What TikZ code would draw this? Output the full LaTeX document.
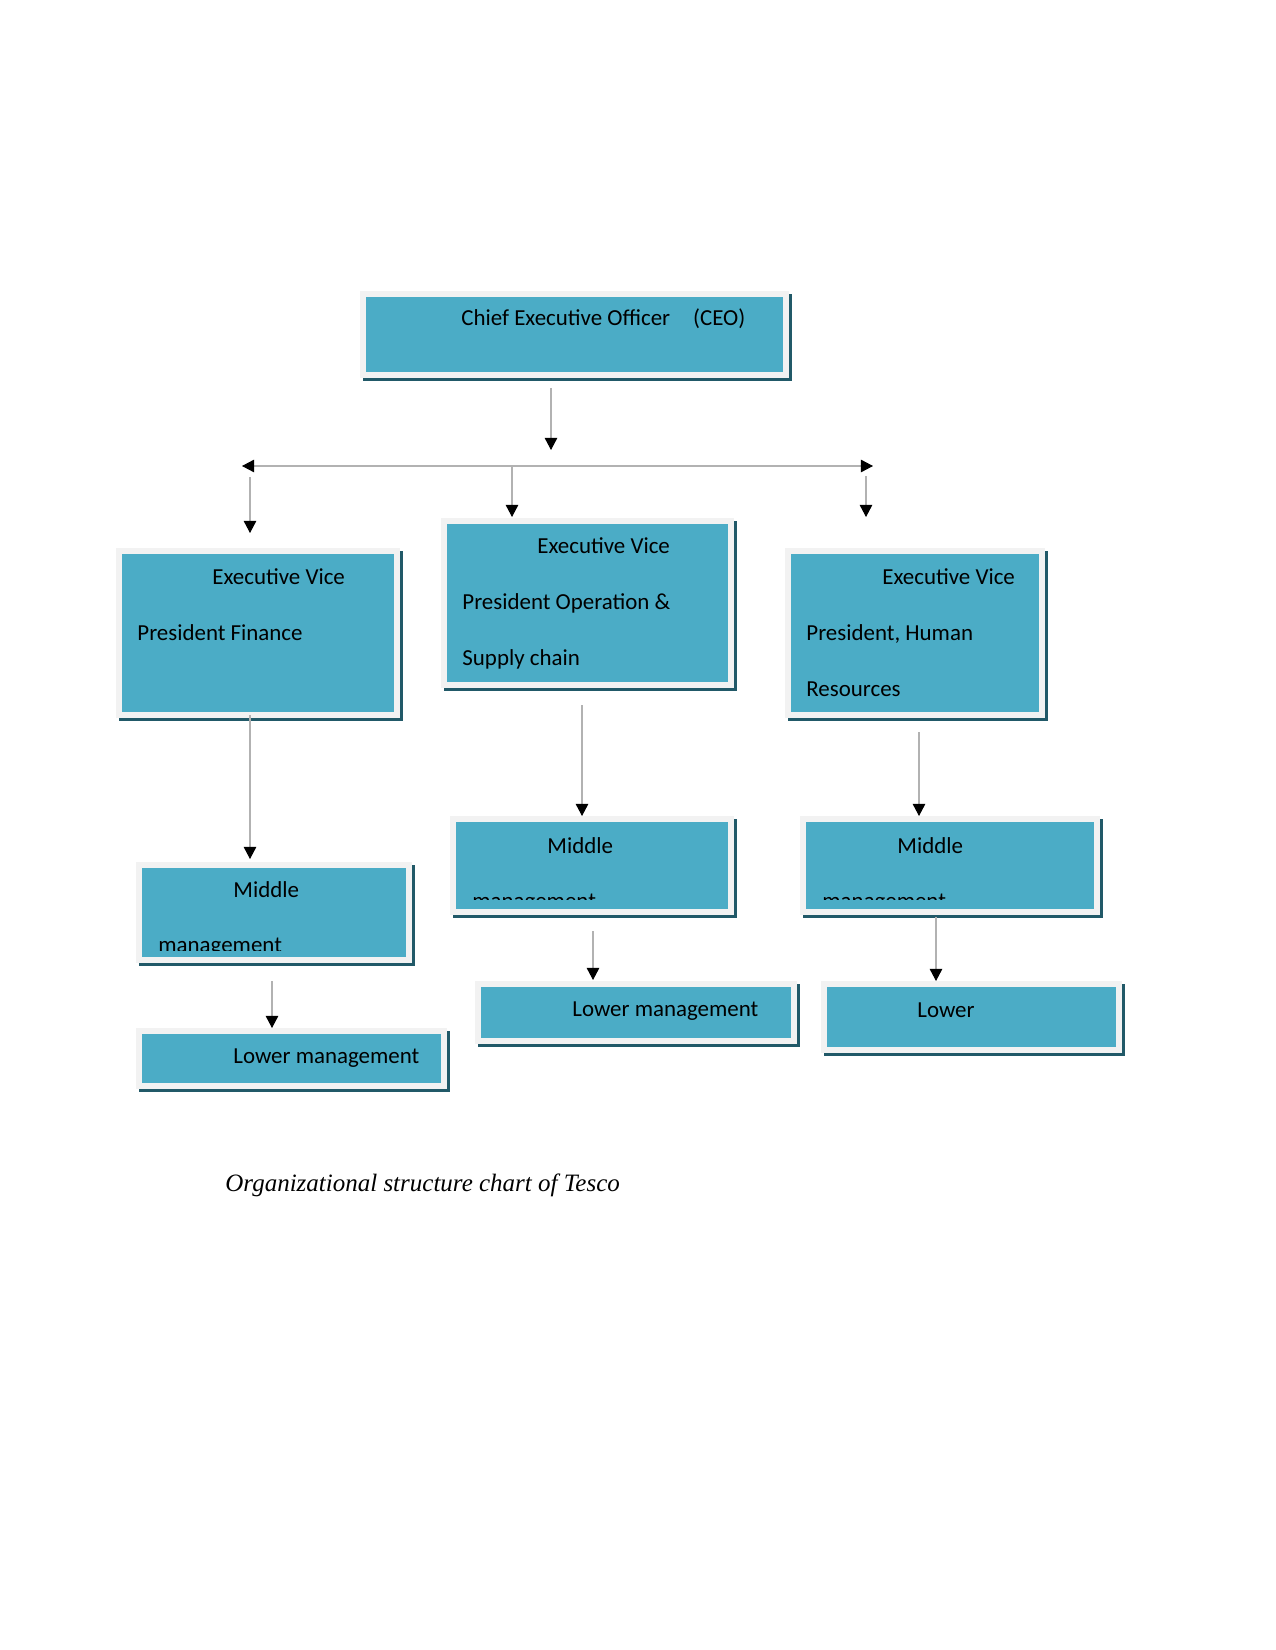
\documentclass[tikz,border=0pt]{standalone}
\usepackage{fontspec}
\setmainfont{Carlito}
\newfontfamily\capfont{Liberation Serif}
\usetikzlibrary{arrows.meta,fit}
\definecolor{boxblue}{HTML}{4BACC6}
\definecolor{boxshade}{HTML}{215968}
\definecolor{boxrim}{HTML}{F2F2F2}

\begin{document}
\begin{tikzpicture}[x=0.48pt,y=-0.48pt,
  orgbox/.style={inner sep=1.44pt,fill=boxblue,draw=boxrim,line width=2.88pt,
    preaction={draw=boxshade,fill=boxshade,transform canvas={shift={(1.44pt,-1.44pt)}}}},
  lbl/.style={anchor=base west,inner sep=0pt,font=\fontsize{11}{13}\selectfont},
  link/.style={draw=gray!60,line width=0.5pt,-{Triangle[length=5.8pt,width=6pt,black]}},
  linkboth/.style={draw=gray!60,line width=0.5pt,{Triangle[length=5.8pt,width=6pt,black]}-{Triangle[length=5.8pt,width=6pt,black]}}]
\useasboundingbox (0,0) rectangle (1275,1650);

\node[orgbox,fit={(366,297)(783,372)}] (ceo) {};
\node[orgbox,fit={(122,554)(394,712)}] (fin) {};
\node[orgbox,fit={(447,524)(728,682)}] (ops) {};
\node[orgbox,fit={(791,554)(1039,712)}] (hr) {};
\node[orgbox,fit={(142,868)(406,957)}] (mid1) {};
\node[orgbox,fit={(456,822)(728,909)}] (mid2) {};
\node[orgbox,fit={(806,822)(1094,909)}] (mid3) {};
\node[orgbox,fit={(142,1034)(441,1083)}] (low1) {};
\node[orgbox,fit={(481,987)(791,1038)}] (low2) {};
\node[orgbox,fit={(827,987)(1116,1047)}] (low3) {};

\node[lbl] (ceo-t) at (461,326) {Chief Executive Officer\hspace{11pt}(CEO)};
\node[lbl] (fin-t1) at (212,584) {Executive Vice};
\node[lbl] (fin-t2) at (137,640) {President Finance};
\node[lbl] (ops-t1) at (537,553) {Executive Vice};
\node[lbl] (ops-t2) at (462,609) {President Operation \&};
\node[lbl] (ops-t3) at (462,665) {Supply chain};
\node[lbl] (hr-t1) at (882,584) {Executive Vice};
\node[lbl] (hr-t2) at (806,640) {President, Human};
\node[lbl] (hr-t3) at (806,696) {Resources};
\node[lbl] (mid1-t1) at (233,897) {Middle};
\node[lbl] (mid2-t1) at (547,853) {Middle};
\node[lbl] (mid3-t1) at (897,853) {Middle};
\begin{scope}
\clip (142,868) rectangle (406,950);
\node[lbl] (mid1-t2) at (158,952) {management};
\end{scope}
\begin{scope}
\clip (456,822) rectangle (728,899);
\node[lbl] (mid2-t2) at (472,908) {management};
\end{scope}
\begin{scope}
\clip (806,822) rectangle (1094,899);
\node[lbl] (mid3-t2) at (822,908) {management};
\end{scope}
\node[lbl] (low1-t) at (233,1063) {Lower management};
\node[lbl] (low2-t) at (572,1016) {Lower management};
\node[lbl] (low3-t) at (917,1017) {Lower};

\coordinate (ceo-out) at (551,388);
\coordinate (split) at (551,450);
\coordinate (bar-l) at (242,466);
\coordinate (bar-m) at (512,466);
\coordinate (bar-r) at (873,466);
\coordinate (fin-top) at (250,477);
\coordinate (fin-in) at (250,533);
\coordinate (ops-in) at (512,517);
\coordinate (hr-top) at (866,476);
\coordinate (hr-in) at (866,517);
\coordinate (fin-out) at (250,715);
\coordinate (mid1-in) at (250,859);
\coordinate (mid1-out) at (272,981);
\coordinate (low1-in) at (272,1028);
\coordinate (ops-out) at (582,705);
\coordinate (mid2-in) at (582,816);
\coordinate (mid2-out) at (593,931);
\coordinate (low2-in) at (593,980);
\coordinate (hr-out) at (919,732);
\coordinate (mid3-in) at (919,816);
\coordinate (mid3-out) at (936,917);
\coordinate (low3-in) at (936,981);

\draw[link] (ceo-out) -- (split);
\draw[linkboth] (bar-l) -- (bar-r);
\draw[link] (fin-top) -- (fin-in);
\draw[link] (bar-m) -- (ops-in);
\draw[link] (hr-top) -- (hr-in);
\draw[link] (fin-out) -- (mid1-in);
\draw[link] (mid1-out) -- (low1-in);
\draw[link] (ops-out) -- (mid2-in);
\draw[link] (mid2-out) -- (low2-in);
\draw[link] (hr-out) -- (mid3-in);
\draw[link] (mid3-out) -- (low3-in);

\node[anchor=base west,inner sep=0pt,font=\capfont\itshape\fontsize{12}{14}\selectfont] (caption) at (225,1191) {Organizational structure chart of Tesco};
\end{tikzpicture}
\end{document}
